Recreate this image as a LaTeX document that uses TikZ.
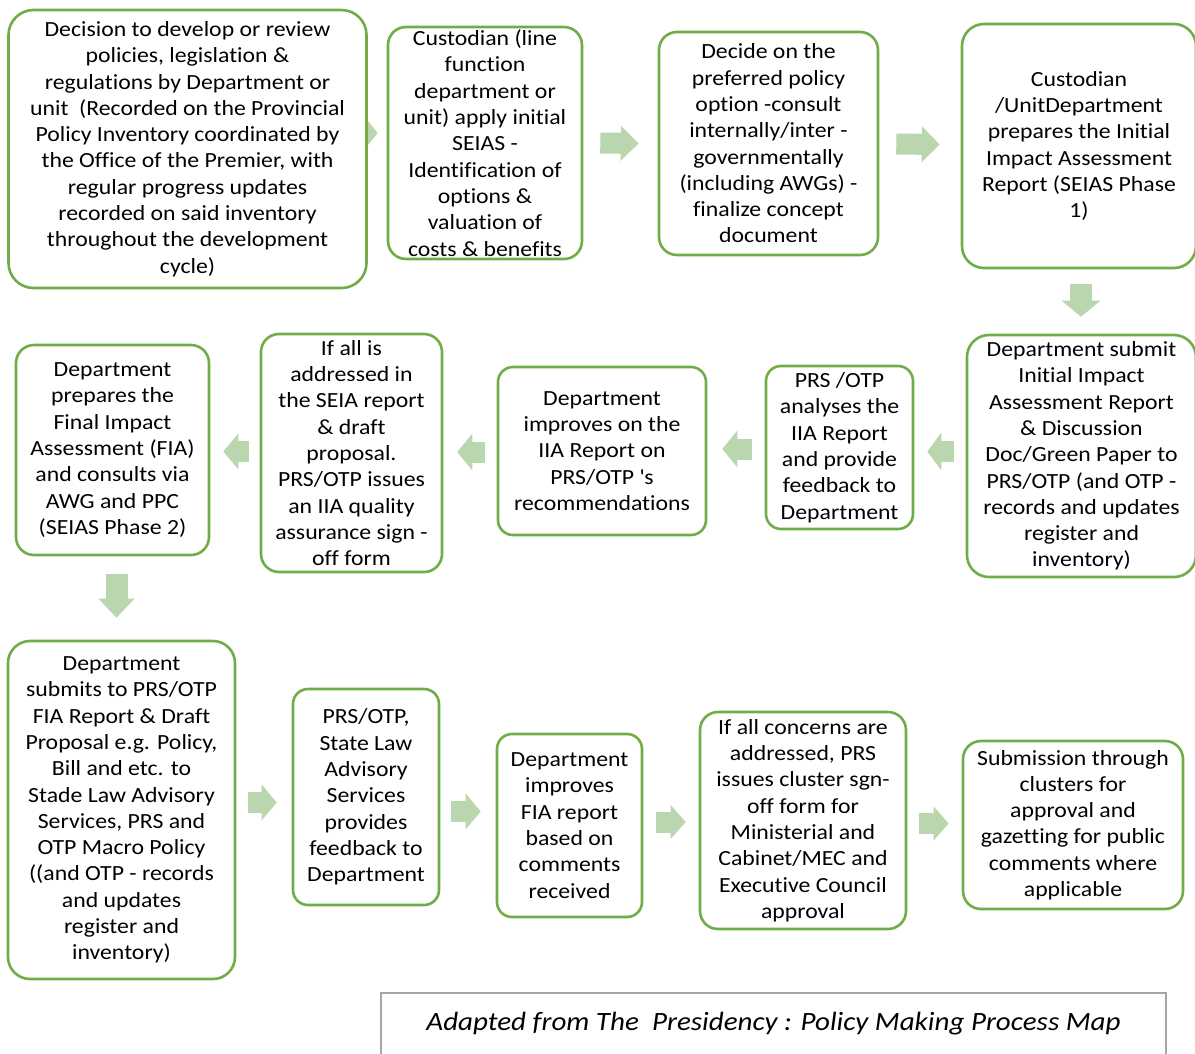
\documentclass[tikz,border=0pt]{standalone}
\usepackage{fontspec}
\setmainfont{Carlito}[FakeStretch=1.1, Ligatures=NoCommon]
\usetikzlibrary{arrows.meta,calc,backgrounds}
\definecolor{boxgreen}{RGB}{112,173,71}
\definecolor{arrowgreen}{RGB}{186,214,175}
\definecolor{capgray}{RGB}{166,166,166}
\newcommand{\straightquote}{\XeTeXglyph\XeTeXcharglyph"27\relax}
\begin{document}
\begin{tikzpicture}[x=1pt,y=-1pt,
  stepbox/.style={draw=boxgreen, line width=2.6pt, rounded corners=18pt, fill=white,
    align=center, inner sep=0pt, font=\fontsize{21.6}{26.3}\selectfont},
  flow/.style={draw=arrowgreen, line width=21pt, -{Triangle[width=36pt,length=16pt]}},
  capbox/.style={draw=capgray, line width=2pt, fill=white, inner sep=0pt,
    font=\fontsize{26.4}{30}\selectfont\itshape}
]
\useasboundingbox (0,0) rectangle (1195,1053);

% Row 1
\node[stepbox, rounded corners=25pt, minimum width=358pt, minimum height=278pt] (b1) at (187.5,149)
 {Decision to develop or review\\policies, legislation \&\\regulations by Department or\\unit\ \ (Recorded on the Provincial\\Policy Inventory coordinated by\\the Office of the Premier, with\\regular progress updates\\recorded on said inventory\\throughout the development\\cycle)};
\node[stepbox, minimum width=194pt, minimum height=232pt] (b2) at (485,143)
 {Custodian (line\\function\\department or\\unit) apply initial\\SEIAS -\\Identification of\\options \&\\valuation of\\costs \& benefits};
\node[stepbox, minimum width=219pt, minimum height=223pt] (b3) at (768.5,143.5)
 {Decide on the\\preferred policy\\option -consult\\internally/inter -\\governmentally\\(including AWGs) -\\finalize concept\\document};
\node[stepbox, rounded corners=22pt, minimum width=234pt, minimum height=244pt] (b4) at (1079,146)
 {Custodian\\/UnitDepartment\\prepares the Initial\\Impact Assessment\\Report (SEIAS Phase\\1)};

% Row 2
\node[stepbox, rounded corners=22pt, minimum width=229pt, minimum height=242pt] (b5) at (1081.5,456)
 {Department submit\\Initial Impact\\Assessment Report\\\& Discussion\\Doc/Green Paper to\\PRS/OTP (and OTP -\\records and updates\\register and\\inventory)};
\node[stepbox, rounded corners=15pt, minimum width=147pt, minimum height=163pt] (b6) at (839.5,447.5)
 {PRS /OTP\\analyses the\\IIA Report\\and provide\\feedback to\\Department};
\node[stepbox, rounded corners=15pt, minimum width=208pt, minimum height=168pt] (b7) at (602,451)
 {Department\\improves on the\\IIA Report on\\PRS/OTP \straightquote s\\recommendations};
\node[stepbox, minimum width=181pt, minimum height=238pt] (b8) at (351.5,453)
 {If all is\\addressed in\\the SEIA report\\\& draft\\proposal.\\PRS/OTP issues\\an IIA quality\\assurance sign -\\off form};
\node[stepbox, minimum width=193pt, minimum height=210pt] (b9) at (112.5,450)
 {Department\\prepares the\\Final Impact\\Assessment (FIA)\\and consults via\\AWG and PPC\\(SEIAS Phase 2)};

% Row 3
\node[stepbox, rounded corners=22pt, minimum width=227pt, minimum height=338pt] (b10) at (121.5,810)
 {Department\\submits to PRS/OTP\\FIA Report \& Draft\\Proposal e.g. Policy,\\Bill and etc. to\\Stade Law Advisory\\Services, PRS and\\OTP Macro Policy\\((and OTP - records\\and updates\\register and\\inventory)};
\node[stepbox, rounded corners=15pt, minimum width=146pt, minimum height=216pt] (b11) at (366,797)
 {PRS/OTP,\\State Law\\Advisory\\Services\\provides\\feedback to\\Department};
\node[stepbox, rounded corners=15pt, minimum width=145pt, minimum height=183pt] (b12) at (569.5,825.5)
 {Department\\improves\\FIA report\\based on\\comments\\received};
\node[stepbox, minimum width=206pt, minimum height=217pt] (b13) at (803,820.5)
 {If all concerns are\\addressed, PRS\\issues cluster sgn-\\off form for\\Ministerial and\\Cabinet/MEC and\\Executive Council\\approval};
\node[stepbox, minimum width=220pt, minimum height=168pt] (b14) at (1073,825)
 {Submission through\\clusters for\\approval and\\gazetting for public\\comments where\\applicable};

% Caption
\node[capbox, minimum width=785pt, minimum height=62pt] (cap) at (773.5,1024)
 {Adapted from The\ \ Presidency : Policy Making Process Map};

% Connectors (block arrows), behind the boxes
\begin{scope}[on background layer]
\fill[white] (0,0) rectangle (1195,1053);
\draw[flow, -{Triangle[width=34pt,length=14pt]}] ($(b1.east)+(-12,-16)$) -- ($(b2.west)+(-9,-10)$);
\draw[flow, -{Triangle[width=34pt,length=18pt]}] ($(b2.east)+(17,0)$) -- ($(b3.west)+(-19,0)$);
\draw[flow, -{Triangle[width=35pt,length=18pt]}] ($(b3.east)+(17,0.5)$) -- ($(b4.west)+(-21,-1.5)$);
\draw[flow, line width=22pt, -{Triangle[width=38pt,length=16pt]}] ($(b4.south)+(2,15)$) -- ($(b5.north)+(-0.5,-17)$);
\draw[flow, -{Triangle[width=37pt,length=14pt]}] ($(b5.west)+(-12,-4.5)$) -- ($(b6.east)+(13,4)$);
\draw[flow, -{Triangle[width=36pt,length=15pt]}] ($(b6.west)+(-13,1.5)$) -- ($(b7.east)+(15,-2)$);
\draw[flow, -{Triangle[width=36pt,length=15pt]}] ($(b7.west)+(-12,1)$) -- ($(b8.east)+(14,-1)$);
\draw[flow, -{Triangle[width=35pt,length=15pt]}] ($(b8.west)+(-11,-1.5)$) -- ($(b9.east)+(13,1.5)$);
\draw[flow, line width=22pt, -{Triangle[width=35pt,length=19pt]}] ($(b9.south)+(4,18)$) -- ($(b10.north)+(-5,-22)$);
\draw[flow, -{Triangle[width=35pt,length=15pt]}] ($(b10.east)+(12,-7.5)$) -- ($(b11.west)+(-15,5.5)$);
\draw[flow, -{Triangle[width=35pt,length=15pt]}] ($(b11.east)+(11,14.5)$) -- ($(b12.west)+(-15,-14)$);
\draw[flow, -{Triangle[width=33pt,length=15pt]}] ($(b12.east)+(13,-3.5)$) -- ($(b13.west)+(-13,1.5)$);
\draw[flow, -{Triangle[width=33pt,length=15pt]}] ($(b13.east)+(12,3)$) -- ($(b14.west)+(-13,-1.5)$);
\end{scope}
\end{tikzpicture}
\end{document}
